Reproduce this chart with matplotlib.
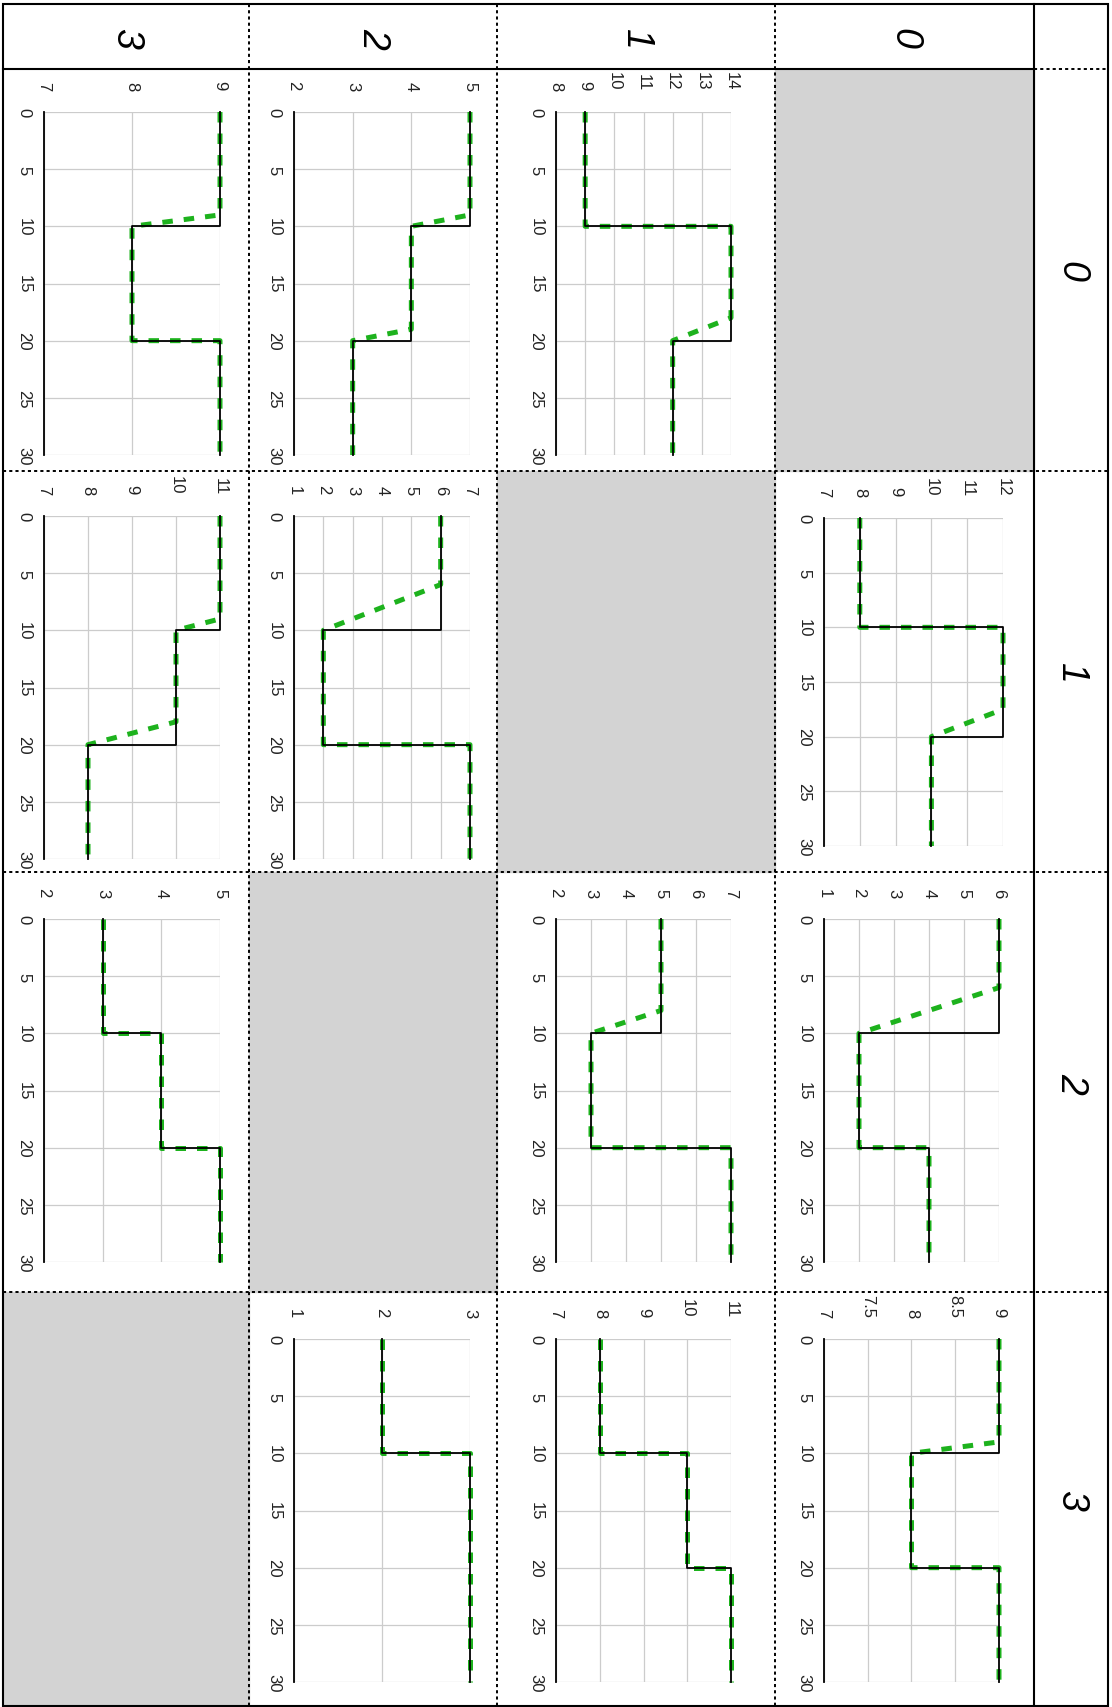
import matplotlib
matplotlib.use("Agg")
import matplotlib.pyplot as plt
from matplotlib.patches import Rectangle

plt.rcParams["font.family"] = ["Liberation Sans", "DejaVu Sans"]

W, H = 1112, 1708

# ── data ───────────────────────────────────────────────────────
HEADERS = ["0", "1", "2", "3"]
STEP_TIMES = [0, 10, 20, 30]
TIME_TICKS = [0, 5, 10, 15, 20, 25, 30]

# keyed by (row label, column label); levels for t in [0,10], [10,20], [20,30]
LEVELS = {
    ("0", "3"): [9, 8, 9],
    ("0", "2"): [5, 4, 3],
    ("0", "1"): [9, 14, 12],
    ("1", "3"): [11, 10, 8],
    ("1", "2"): [6, 2, 7],
    ("1", "0"): [8, 12, 10],
    ("2", "3"): [3, 4, 5],
    ("2", "1"): [5, 3, 7],
    ("2", "0"): [6, 2, 4],
    ("3", "2"): [2, 3, 3],
    ("3", "1"): [8, 10, 11],
    ("3", "0"): [9, 8, 9],
}
# time at which the dashed estimate starts sliding down before a drop (None = jumps)
RAMP_START = {
    ("0", "3"): [9, None],
    ("0", "2"): [9, 19],
    ("0", "1"): [None, 18],
    ("1", "3"): [9, 18],
    ("1", "2"): [6, None],
    ("1", "0"): [None, 17.5],
    ("2", "3"): [None, None],
    ("2", "1"): [8, None],
    ("2", "0"): [6, None],
    ("3", "2"): [None, None],
    ("3", "1"): [None, None],
    ("3", "0"): [9, None],
}
VALUE_TICKS = {
    ("0", "3"): [7, 8, 9],
    ("0", "2"): [2, 3, 4, 5],
    ("0", "1"): [8, 9, 10, 11, 12, 13, 14],
    ("1", "3"): [7, 8, 9, 10, 11],
    ("1", "2"): [1, 2, 3, 4, 5, 6, 7],
    ("1", "0"): [7, 8, 9, 10, 11, 12],
    ("2", "3"): [2, 3, 4, 5],
    ("2", "1"): [2, 3, 4, 5, 6, 7],
    ("2", "0"): [1, 2, 3, 4, 5, 6],
    ("3", "2"): [1, 2, 3],
    ("3", "1"): [7, 8, 9, 10, 11],
    ("3", "0"): [7, 7.5, 8, 8.5, 9],
}

# ── layout (pixels, figure is drawn turned a quarter clockwise) ─
GRID_X = [3, 249, 497, 775, 1034, 1108]      # image columns -> labels 3,2,1,0 then header
GRID_Y = [5, 70, 472, 873, 1293, 1707]       # header, then rows 0..3
COL_LABELS = ["3", "2", "1", "0"]
PLOT_X = {"3": (44, 220), "2": (294, 470), "1": (556, 731), "0": (824, 999)}
PLOT_Y = {"0": (113, 456), "1": (517, 860), "2": (920, 1263), "3": (1340, 1683)}
PLOT_OVERRIDE = {("1", "0"): (824, 519, 1003, 847)}

GREEN = "#1db21d"
GRID_C = "#cccccc"
GRAY = "#d3d3d3"

fig = plt.figure(figsize=(W / 100, H / 100), dpi=100)
bg = fig.add_axes([0, 0, 1, 1])
bg.set_xlim(0, W); bg.set_ylim(H, 0); bg.axis("off")

# diagonal cells greyed out
for ci, cl in enumerate(COL_LABELS):
    ri = HEADERS.index(cl)
    bg.add_patch(Rectangle((GRID_X[ci], GRID_Y[ri + 1]), GRID_X[ci + 1] - GRID_X[ci],
                           GRID_Y[ri + 2] - GRID_Y[ri + 1], color=GRAY, zorder=0))

dot = dict(color="black", lw=1.4, ls=(0, (1.6, 1.6)), zorder=2)
solid = dict(color="black", lw=1.5, zorder=3)
for x in GRID_X[1:4]:
    bg.plot([x, x], [GRID_Y[0], GRID_Y[-1]], **dot)
for y in GRID_Y[2:5]:
    bg.plot([GRID_X[0], GRID_X[-1]], [y, y], **dot)
bg.plot([GRID_X[4], GRID_X[5]], [GRID_Y[1], GRID_Y[1]], **dot)
bg.plot([GRID_X[0], GRID_X[4]], [GRID_Y[1], GRID_Y[1]], **solid)
bg.plot([GRID_X[4], GRID_X[4]], [GRID_Y[0], GRID_Y[-1]], **solid)
bg.add_patch(Rectangle((GRID_X[0], GRID_Y[0]), GRID_X[-1] - GRID_X[0], GRID_Y[-1] - GRID_Y[0],
                       fill=False, ec="black", lw=1.5, zorder=3))

for ci, cl in enumerate(COL_LABELS):
    bg.text((GRID_X[ci] + GRID_X[ci + 1]) / 2, (GRID_Y[0] + GRID_Y[1]) / 2 + 1, cl,
            rotation=-90, ha="center", va="center", fontsize=27, style="italic")
for ri, rl in enumerate(HEADERS):
    bg.text((GRID_X[4] + GRID_X[5]) / 2, (GRID_Y[ri + 1] + GRID_Y[ri + 2]) / 2, rl,
            rotation=-90, ha="center", va="center", fontsize=27, style="italic")

# ── small panels ───────────────────────────────────────────────
for (rl, cl), lev in LEVELS.items():
    if (rl, cl) in PLOT_OVERRIDE:
        x0, y0, x1, y1 = PLOT_OVERRIDE[(rl, cl)]
    else:
        x0, x1 = PLOT_X[cl]
        y0, y1 = PLOT_Y[rl]
    ax = fig.add_axes([x0 / W, 1 - y1 / H, (x1 - x0) / W, (y1 - y0) / H])
    ax.set_facecolor("none")

    # dashed estimate
    gt, gv = [0], [lev[0]]
    for k, r in enumerate(RAMP_START[(rl, cl)]):
        ts = STEP_TIMES[k + 1]
        gt += [ts if r is None else r, ts]
        gv += [lev[k], lev[k + 1]]
    gt.append(30); gv.append(lev[-1])
    ax.plot(gv, gt, color=GREEN, lw=3.6, ls=(0, (2.1, 2.2)), zorder=2, clip_on=False)

    # true step signal
    ax.plot(lev + [lev[-1]], STEP_TIMES, drawstyle="steps-pre", color="black",
            lw=1.3, zorder=3, clip_on=False)

    vt = VALUE_TICKS[(rl, cl)]
    ax.set_xlim(vt[0], vt[-1])
    ax.set_ylim(30, 0)
    ax.set_xticks(vt)
    ax.set_xticklabels([f"{v:g}" for v in vt])
    ax.set_yticks(TIME_TICKS)
    ax.xaxis.tick_top()
    ax.tick_params(axis="x", length=0, pad=16, labelrotation=-90, labelsize=12, labelcolor="#222")
    ax.tick_params(axis="y", length=0, pad=9, labelrotation=-90, labelsize=12, labelcolor="#222")
    for lab in ax.get_yticklabels():
        lab.set_va("center")
    ax.grid(True, color=GRID_C, lw=0.9, zorder=0)
    ax.set_axisbelow(True)
    for s in ("top", "right", "bottom"):
        ax.spines[s].set_visible(False)
    ax.spines["left"].set_color("black")
    ax.spines["left"].set_linewidth(1.3)

fig.savefig("out.png", dpi=100)
